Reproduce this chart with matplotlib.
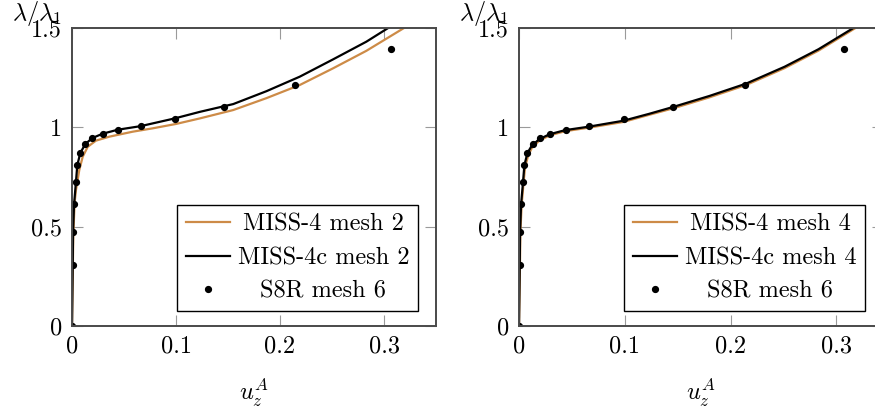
import matplotlib
matplotlib.use("Agg")
import matplotlib.pyplot as plt

plt.rcParams["font.family"] = "serif"
plt.rcParams["font.serif"] = ["cmr10"]
plt.rcParams["mathtext.fontset"] = "cm"
plt.rcParams["axes.formatter.use_mathtext"] = True

# S8R mesh 6 reference points (shared by both panels)
s8r_x = [0, 0.0007, 0.001, 0.002, 0.0038, 0.0051, 0.008, 0.0128, 0.0195,
         0.0295, 0.044, 0.066, 0.0988, 0.146, 0.214, 0.307]
s8r_y = [0, 0.305, 0.473, 0.614, 0.725, 0.81, 0.871, 0.916, 0.946,
         0.968, 0.986, 1.008, 1.042, 1.101, 1.211, 1.393]

# left panel: mesh 2
miss4_m2_x = [0, 0.0012, 0.0025, 0.0038, 0.007, 0.0103, 0.0151, 0.023, 0.0359,
              0.0583, 0.0776, 0.1, 0.123, 0.155, 0.187, 0.219, 0.251, 0.283, 0.3186]
miss4_m2_y = [0, 0.45, 0.62, 0.684, 0.785, 0.852, 0.902, 0.933, 0.953,
              0.978, 0.995, 1.017, 1.045, 1.087, 1.147, 1.213, 1.297, 1.385, 1.498]
miss4c_m2_x = [0, 0.0007, 0.001, 0.002, 0.0038, 0.0051, 0.008, 0.0128, 0.0195,
               0.0295, 0.044, 0.066, 0.0988, 0.123, 0.155, 0.187, 0.219, 0.251,
               0.283, 0.304]
miss4c_m2_y = [0, 0.305, 0.473, 0.614, 0.725, 0.81, 0.871, 0.916, 0.946,
               0.968, 0.988, 1.006, 1.045, 1.078, 1.117, 1.182, 1.255, 1.342,
               1.431, 1.5]

# right panel: mesh 4
miss4_m4_x = [0, 0.0009, 0.0013, 0.0025, 0.0043, 0.0057, 0.0088, 0.0125, 0.0195,
              0.0292, 0.044, 0.0656, 0.0985, 0.123, 0.1466, 0.18, 0.2146, 0.251,
              0.283, 0.318]
miss4_m4_y = [0, 0.30, 0.47, 0.61, 0.72, 0.80, 0.86, 0.90, 0.934,
              0.96, 0.981, 0.998, 1.027, 1.063, 1.097, 1.151, 1.213, 1.298,
              1.386, 1.5]
miss4c_m4_x = [0, 0.0007, 0.001, 0.002, 0.0038, 0.0051, 0.008, 0.012, 0.019,
               0.0288, 0.0437, 0.0656, 0.0985, 0.123, 0.1466, 0.18, 0.2146, 0.251,
               0.283, 0.316]
miss4c_m4_y = [0, 0.305, 0.473, 0.614, 0.725, 0.81, 0.871, 0.907, 0.94,
               0.965, 0.986, 1.003, 1.033, 1.068, 1.104, 1.158, 1.22, 1.305,
               1.393, 1.5]

xticks = [0, 0.1, 0.2, 0.3]
xtick_labels = ["0", "0.1", "0.2", "0.3"]
yticks = [0, 0.5, 1, 1.5]
ytick_labels = ["0", "0.5", "1", "1.5"]

ORANGE = "#cd8b47"
FS = 17.5

W, H = 875, 409
fig = plt.figure(figsize=(W / 100, H / 100), dpi=100)
renderer = fig.canvas.get_renderer()


def center_legend_texts(leg):
    # pgfplots centres legend entries; shift each text by half the width gap
    texts = leg.get_texts()
    widths = [t.get_window_extent(renderer).width for t in texts]
    wmax = max(widths)
    for t, w in zip(texts, widths):
        t.set_position(((wmax - w) / 2, 0))


def make_axes(left_px, xmax, mesh, orange_xy, black_xy):
    ax = fig.add_axes([left_px / W, (H - 326) / H, 364 / W, 298 / H])
    ax.plot(*orange_xy, color=ORANGE, lw=1.6, label=f"MISS-4 mesh {mesh}")
    ax.plot(*black_xy, color="black", lw=1.6, label=f"MISS-4c mesh {mesh}")
    ax.plot(s8r_x, s8r_y, ls="none", marker="o", ms=4.2, color="black",
            label="S8R mesh 6")
    ax.set_xlim(0, xmax)
    ax.set_ylim(0, 1.5)
    ax.set_xticks(xticks)
    ax.set_xticklabels(xtick_labels)
    ax.set_yticks(yticks)
    ax.set_yticklabels(ytick_labels)
    ax.tick_params(direction="in", length=8, width=0.8, color="#9a9a9a",
                   top=True, right=True, labelsize=FS, pad=7)
    for s in ax.spines.values():
        s.set_color("#4a4a4a")
        s.set_linewidth(1.4)
    ax.set_xlabel(r"$u_z^A$", fontsize=FS, labelpad=14)
    ax.text(-35 / 364, 1.0 + 8 / 298, r"$\lambda/\lambda_1$", fontsize=FS,
            transform=ax.transAxes, ha="center", va="baseline")
    leg = ax.legend(loc="lower right", bbox_to_anchor=(0.951, 0.05), fontsize=FS,
                    frameon=True, fancybox=False, edgecolor="black", framealpha=1,
                    handlelength=1.8, handletextpad=0.33, labelspacing=0.45,
                    borderpad=0.37, borderaxespad=0)
    leg.get_frame().set_linewidth(1.0)
    center_legend_texts(leg)
    return ax


make_axes(72, 0.35, 2, (miss4_m2_x, miss4_m2_y), (miss4c_m2_x, miss4c_m2_y))
make_axes(519, 0.344, 4, (miss4_m4_x, miss4_m4_y), (miss4c_m4_x, miss4c_m4_y))

fig.savefig("out.png", dpi=100)
